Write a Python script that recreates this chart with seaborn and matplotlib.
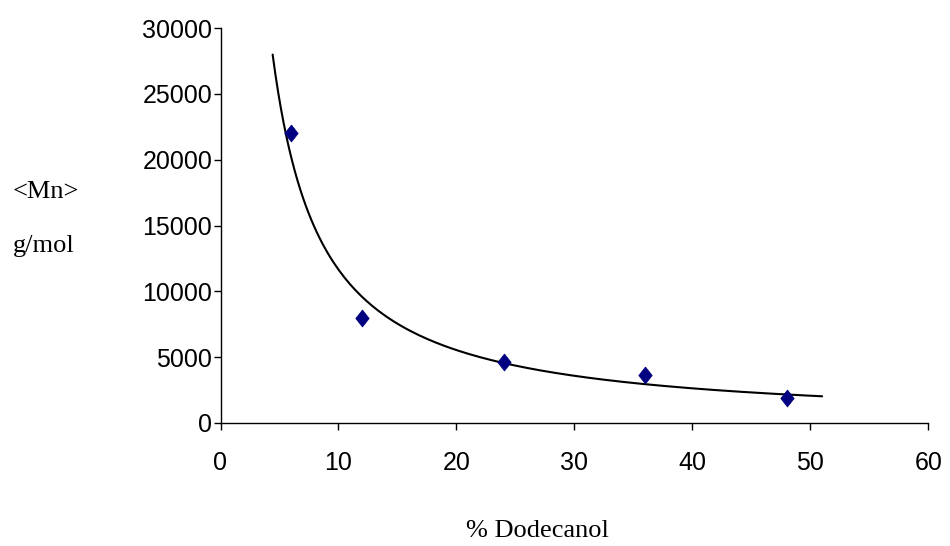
import numpy as np
import pandas as pd
import matplotlib
matplotlib.use("Agg")
import matplotlib.pyplot as plt
import seaborn as sns

# Measured molecular weight vs dodecanol content
dodecanol_pct = [6, 12, 24, 36, 48]
mn_gmol = [22000, 8000, 4600, 3650, 1900]

x_ticks = [0, 10, 20, 30, 40, 50, 60]
y_ticks = [0, 5000, 10000, 15000, 20000, 25000, 30000]

sns.set_theme(style="white")
plt.rcParams["font.family"] = ["Liberation Sans", "DejaVu Sans"]
plt.rcParams["text.color"] = "black"
plt.rcParams["xtick.color"] = "black"
plt.rcParams["ytick.color"] = "black"

df = pd.DataFrame({"pct": dodecanol_pct, "mn": mn_gmol})

# Power-law trendline (y = a * x^b) fitted in log space
b, log_a = np.polyfit(np.log(df["pct"]), np.log(df["mn"]), 1)
trend_x = np.linspace(4.42, 51.0, 200)
trend = pd.DataFrame({"pct": trend_x, "mn": np.exp(log_a) * trend_x ** b})

fig = plt.figure(figsize=(9.5, 5.46), dpi=100)
ax = fig.add_axes([220.5 / 950, (546 - 423) / 546, (928.3 - 220.5) / 950, (423 - 28) / 546])

sns.lineplot(data=trend, x="pct", y="mn", ax=ax, color="black", linewidth=1.5,
             estimator=None, sort=False)

diamond = [(0, 1), (0.79, 0), (0, -1), (-0.79, 0), (0, 1)]
sns.scatterplot(data=df, x="pct", y="mn", ax=ax, marker=diamond, s=150,
                color="#000080", edgecolor="#000080", linewidth=0.5, zorder=3)

ax.set_xlim(0, 60)
ax.set_ylim(0, 30000)
ax.set_xticks(x_ticks)
ax.set_yticks(y_ticks)
ax.set_xticklabels([str(v) for v in x_ticks], fontsize=18)
ax.set_yticklabels([str(v) for v in y_ticks], fontsize=18)
ax.tick_params(axis="x", bottom=True, direction="out", length=5, width=1,
               color="black", labelcolor="black", pad=15)
ax.tick_params(axis="y", left=True, direction="out", length=5, width=1,
               color="black", labelcolor="black", pad=1)
ax.set_xlabel("")
ax.set_ylabel("")

for side in ("top", "right"):
    ax.spines[side].set_visible(False)
for side in ("left", "bottom"):
    ax.spines[side].set_color("black")
    ax.spines[side].set_linewidth(1)

serif = ["Liberation Serif", "DejaVu Serif"]
fig.text(13 / 950, 1 - 198 / 546, "<Mn>", family=serif, fontsize=19,
         ha="left", va="baseline", color="black")
fig.text(13 / 950, 1 - 252 / 546, "g/mol", family=serif, fontsize=19,
         ha="left", va="baseline", color="black")
fig.text(537.5 / 950, 1 - 537 / 546, "% Dodecanol", family=serif, fontsize=19,
         ha="center", va="baseline", color="black")

fig.savefig("out.png", dpi=100, facecolor="white")
